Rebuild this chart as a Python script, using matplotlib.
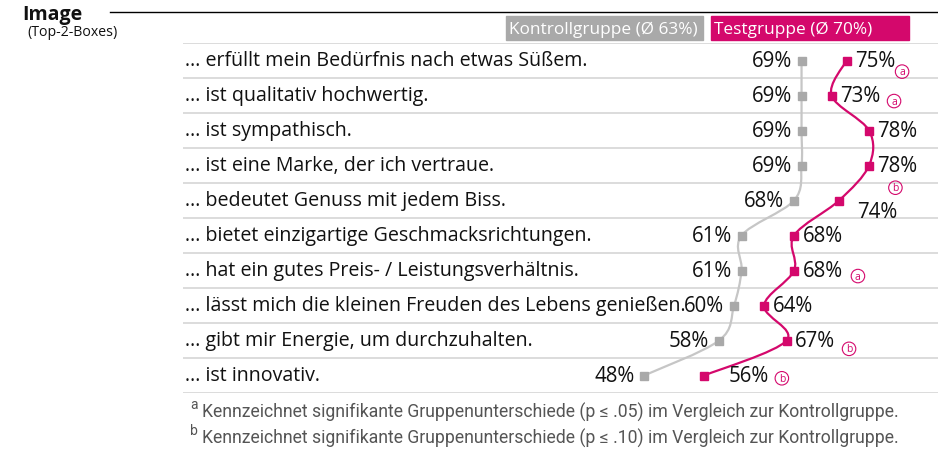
import matplotlib.pyplot as plt
from matplotlib.path import Path
from matplotlib.patches import PathPatch, Rectangle

items = ['... erfüllt mein Bedürfnis nach etwas Süßem.',
         '... ist qualitativ hochwertig.',
         '... ist sympathisch.',
         '... ist eine Marke, der ich vertraue.',
         '... bedeutet Genuss mit jedem Biss.',
         '... bietet einzigartige Geschmacksrichtungen.',
         '... hat ein gutes Preis- / Leistungsverhältnis.',
         '... lässt mich die kleinen Freuden des Lebens genießen.',
         '... gibt mir Energie, um durchzuhalten.',
         '... ist innovativ.']
kontroll = [69, 69, 69, 69, 68, 61, 61, 60, 58, 48]
test = [75, 73, 78, 78, 74, 68, 68, 64, 67, 56]
sig = ['a', 'a', '', 'b', '', '', 'a', '', 'b', 'b']

GRAY = '#a9a9a9'
PINK = '#d4086c'
FONT = 'Open Sans'

fig = plt.figure(figsize=(9.38, 4.77), dpi=100)
ax = fig.add_axes([183 / 938, 1 - 394 / 477, 755 / 938, 350 / 477])
ax.set_xlim(-13.5, 87.2)
ax.set_ylim(9.5, -0.5)
ax.axis('off')

rows = list(range(len(items)))

# Trennlinien
for i in range(len(items) + 1):
    ax.axhline(i - 0.5, color='#d9d9d9', lw=1.3, zorder=0)


def smooth(xs, ys):
    pts = list(zip(xs, ys))
    verts = [pts[0]]
    codes = [Path.MOVETO]
    for k in range(len(pts) - 1):
        p0 = pts[max(k - 1, 0)]
        p1 = pts[k]
        p2 = pts[k + 1]
        p3 = pts[min(k + 2, len(pts) - 1)]
        c1 = (p1[0] + (p2[0] - p0[0]) / 6, p1[1] + (p2[1] - p0[1]) / 6)
        c2 = (p2[0] - (p3[0] - p1[0]) / 6, p2[1] - (p3[1] - p1[1]) / 6)
        verts += [c1, c2, p2]
        codes += [Path.CURVE4] * 3
    return Path(verts, codes)


ax.add_patch(PathPatch(smooth(kontroll, rows), fc='none', ec='#c6c6c6', lw=1.6, zorder=2))
ax.add_patch(PathPatch(smooth(test, rows), fc='none', ec=PINK, lw=1.6, zorder=2))
ax.plot(kontroll, rows, 's', color=GRAY, ms=6, ls='none', zorder=3)
ax.plot(test, rows, 's', color=PINK, ms=6, ls='none', zorder=3)

# Zeilenbeschriftungen
for i, t in enumerate(items):
    ax.text(-13.2, i, t, ha='left', va='center', fontsize=14.1, family=FONT,
            color='#111111')

# Werte
test_off = [(6, 0)] * 10
test_off[4] = (13, -8)
test_off[9] = (18, 0)
for i in rows:
    ax.annotate(f'{kontroll[i]}%', (kontroll[i], i), xytext=(-7, 0),
                textcoords='offset points', ha='right', va='center',
                fontsize=14.8, family=FONT, color='#111111')
    ax.annotate(f'{test[i]}%', (test[i], i), xytext=test_off[i],
                textcoords='offset points', ha='left', va='center',
                fontsize=14.8, family=FONT, color='#111111')

# Signifikanz-Kreise
sig_off = {0: (40, -8), 1: (45, -4), 3: (19, -16), 6: (46, -4), 8: (45, -6), 9: (56, -2)}
for i in rows:
    if sig[i]:
        ax.annotate(sig[i], (test[i], i), xytext=sig_off[i],
                    textcoords='offset points', ha='center', va='center',
                    fontsize=7.5, family=FONT, color=PINK,
                    bbox=dict(boxstyle='circle,pad=0.12', fc='none', ec=PINK, lw=0.8))

# Legende
fig.patches.append(Rectangle((506 / 938, 1 - 41 / 477), 197 / 938, 24 / 477,
                             transform=fig.transFigure, color=GRAY, zorder=1))
fig.patches.append(Rectangle((711 / 938, 1 - 41 / 477), 198 / 938, 24 / 477,
                             transform=fig.transFigure, color=PINK, zorder=1))
fig.text(509 / 938, 1 - 30 / 477, 'Kontrollgruppe (Ø 63%)', ha='left', va='center',
         fontsize=12.4, family=FONT, color='white')
fig.text(714 / 938, 1 - 30 / 477, 'Testgruppe (Ø 70%)', ha='left', va='center',
         fontsize=12.4, family=FONT, color='white')

# Titel
fig.text(22 / 938, 1 - 20 / 477, 'Image', ha='left', va='baseline', fontsize=14,
         family=FONT, weight='bold', color='#111111')
fig.text(27 / 938, 1 - 33 / 477, '(Top-2-Boxes)', ha='left', va='center', fontsize=10.2,
         family=FONT, color='#111111')
fig.add_artist(plt.Line2D([110 / 938, 1], [1 - 13 / 477, 1 - 13 / 477], color='black',
                          lw=1, transform=fig.transFigure))

# Fußnoten
notes = ['Kennzeichnet signifikante Gruppenunterschiede (p ≤ .05) im Vergleich zur Kontrollgruppe.',
         'Kennzeichnet signifikante Gruppenunterschiede (p ≤ .10) im Vergleich zur Kontrollgruppe.']
for k, (letter, note) in enumerate(zip(['a', 'b'], notes)):
    y = 412 + k * 26
    fig.text(190 / 938, 1 - (y - 7) / 477, letter, ha='left', va='center', fontsize=10,
             family='Roboto', color='#555555')
    fig.text(202 / 938, 1 - y / 477, note, ha='left', va='center', fontsize=12.7,
             family='Roboto', color='#555555')

fig.savefig('out.png', dpi=100)
